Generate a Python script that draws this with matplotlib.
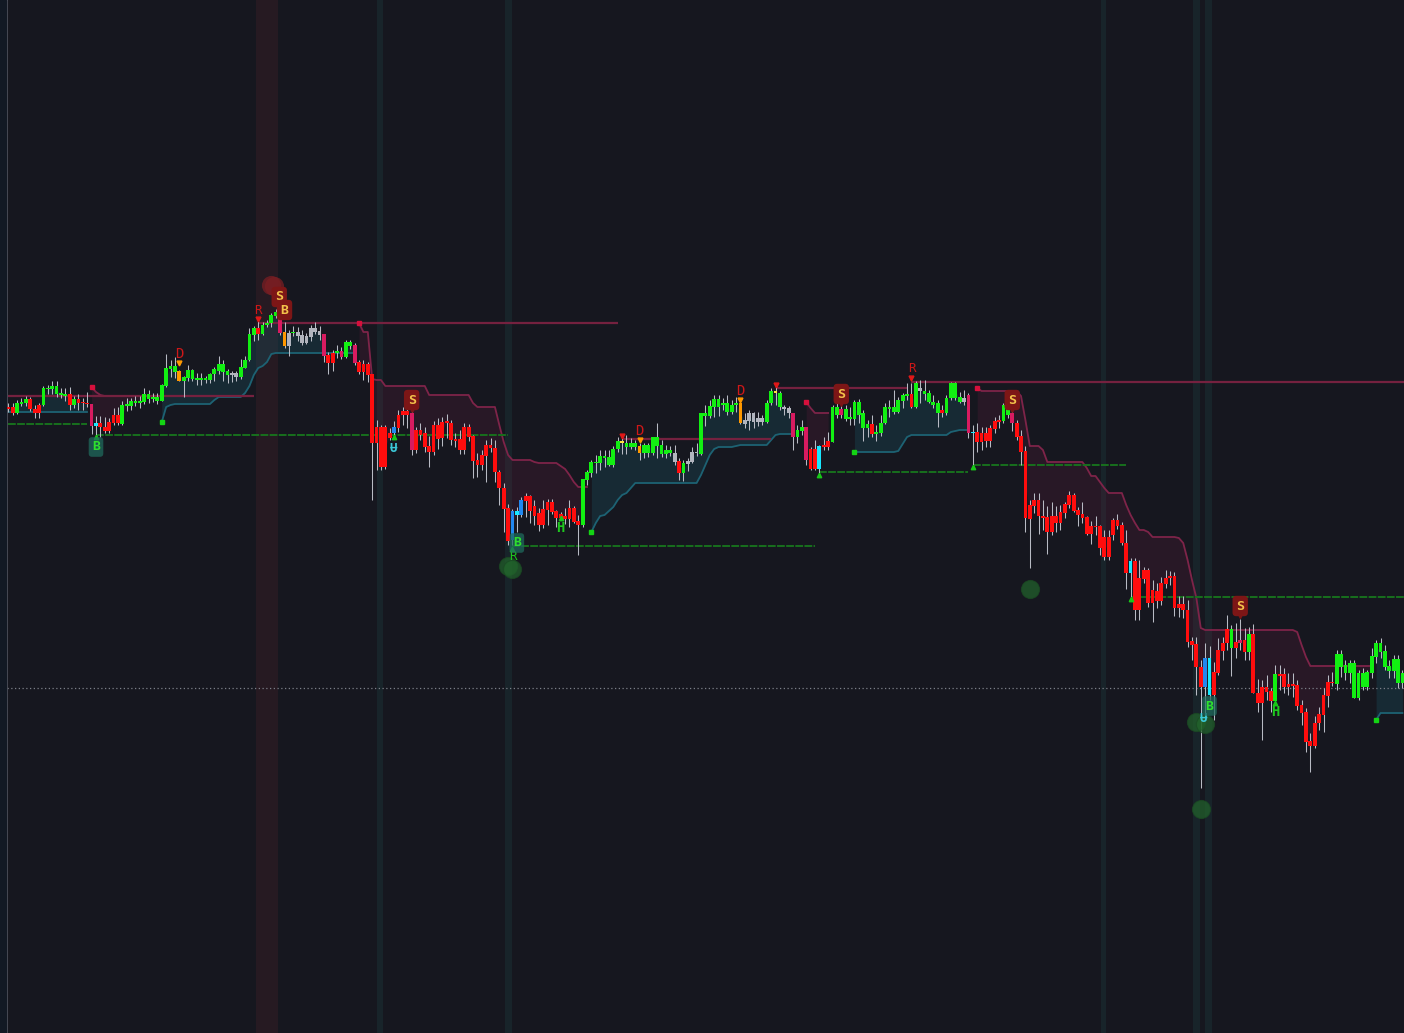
import matplotlib
# headless backend
matplotlib.use('Agg')
from matplotlib import pyplot as plt
import numpy as np

BG = '#16171f'

# ---- candles, one entry per bar (price units) ----
opens = [
    693, 693, 687, 696, 697, 701, 691, 695, 695, 711,
    711, 706, 705, 704, 706, 695, 701, 698, 697, 696,
    674, 677, 673, 678, 685, 685, 676, 694, 694, 697,
    697, 698, 701, 701, 699, 699, 714, 731, 728, 729,
    719, 722, 721, 720, 720, 720, 720, 726, 729, 728,
    725, 727, 723, 723, 732, 740, 765, 772, 766, 775,
    777, 784, 788, 768, 754, 767, 768, 765, 757, 763,
    772, 769, 766, 745, 747, 747, 749, 743, 754, 755,
    738, 736, 736, 726, 673, 673, 673, 667, 667, 685,
    689, 689, 687, 670, 670, 667, 654, 675, 675, 678,
    679, 677, 661, 661, 673, 673, 664, 640, 645, 655,
    655, 652, 628, 612, 592, 560, 585, 585, 604, 604,
    594, 587, 591, 598, 598, 589, 586, 584, 592, 592,
    579, 575, 620, 627, 637, 637, 642, 635, 635, 651,
    657, 653, 653, 653, 654, 647, 647, 647, 654, 646,
    646, 647, 647, 639, 627, 636, 638, 647, 646, 684,
    684, 693, 693, 695, 688, 688, 695, 697, 680, 679,
    678, 682, 678, 678, 697, 707, 693, 693, 692, 687,
    663, 669, 673, 651, 651, 631, 655, 659, 658, 685,
    691, 681, 681, 681, 685, 672, 672, 676, 666, 667,
    677, 691, 688, 688, 699, 704, 706, 693, 709, 706,
    698, 695, 687, 690, 687, 702, 702, 698, 702, 705,
    667, 668, 667, 667, 672, 679, 680, 679, 685, 687,
    677, 664, 649, 595, 600, 600, 584, 583, 584, 584,
    588, 596, 605, 605, 590, 586, 583, 574, 574, 574,
    563, 563, 580, 580, 575, 557, 527, 539, 522, 530,
    530, 510, 509, 517, 522, 524, 524, 496, 496, 490,
    459, 456, 433, 413, 405, 428, 450, 457, 471, 452,
    458, 460, 460, 448, 466, 407, 413, 413, 409, 399,
    426, 426, 416, 416, 415, 395, 388, 359, 377, 386,
    405, 418, 418, 416, 433, 427, 427, 402, 402, 413,
    413, 427, 443, 448, 433, 429, 429, 417, 417,
]
highs = [
    697, 697, 700, 702, 704, 703, 695, 697, 714, 715,
    719, 719, 712, 712, 713, 704, 706, 702, 708, 696,
    684, 684, 683, 682, 692, 693, 699, 702, 702, 704,
    704, 712, 710, 707, 707, 716, 746, 740, 743, 730,
    724, 735, 731, 727, 727, 724, 727, 733, 744, 740,
    731, 729, 729, 741, 744, 772, 774, 780, 778, 780,
    787, 791, 791, 778, 770, 774, 773, 770, 767, 775,
    778, 774, 766, 748, 750, 755, 753, 760, 760, 757,
    740, 740, 738, 726, 680, 675, 675, 672, 679, 690,
    693, 695, 690, 673, 677, 673, 664, 679, 682, 683,
    686, 680, 667, 670, 677, 676, 665, 647, 650, 660,
    662, 660, 630, 617, 596, 591, 593, 603, 607, 605,
    600, 592, 600, 601, 601, 590, 588, 592, 600, 594,
    585, 621, 630, 640, 645, 650, 650, 650, 654, 663,
    663, 665, 662, 660, 657, 657, 657, 663, 677, 660,
    655, 654, 655, 642, 640, 642, 653, 657, 687, 695,
    700, 705, 705, 702, 705, 700, 703, 699, 687, 690,
    688, 688, 685, 700, 712, 713, 709, 695, 694, 687,
    675, 680, 673, 653, 660, 655, 663, 668, 695, 697,
    695, 695, 693, 700, 701, 690, 680, 685, 675, 685,
    697, 700, 710, 703, 707, 717, 717, 719, 720, 720,
    710, 705, 700, 695, 705, 718, 718, 708, 710, 707,
    675, 677, 673, 673, 675, 683, 685, 697, 702, 690,
    680, 670, 654, 600, 607, 607, 600, 594, 598, 594,
    595, 598, 609, 607, 593, 598, 584, 579, 584, 575,
    570, 570, 582, 586, 578, 570, 542, 542, 540, 533,
    532, 520, 517, 523, 530, 529, 528, 504, 504, 500,
    463, 463, 440, 457, 454, 438, 462, 463, 485, 475,
    477, 481, 472, 473, 476, 421, 420, 425, 412, 435,
    435, 432, 427, 427, 420, 400, 392, 367, 384, 393,
    412, 425, 428, 450, 450, 440, 440, 440, 430, 432,
    430, 452, 460, 462, 455, 440, 445, 445, 430,
]
lows = [
    688, 685, 686, 694, 694, 689, 682, 682, 694, 706,
    706, 703, 702, 699, 690, 692, 690, 690, 693, 666,
    665, 663, 667, 667, 675, 675, 675, 689, 690, 694,
    692, 696, 697, 698, 696, 699, 713, 723, 722, 719,
    703, 719, 719, 715, 715, 717, 717, 719, 726, 719,
    717, 718, 719, 721, 732, 739, 759, 760, 765, 773,
    773, 782, 765, 752, 744, 764, 759, 755, 756, 759,
    766, 760, 738, 726, 729, 742, 741, 742, 751, 735,
    726, 720, 718, 600, 630, 630, 631, 660, 664, 668,
    675, 672, 645, 647, 660, 648, 633, 645, 651, 654,
    662, 655, 653, 646, 646, 659, 622, 623, 630, 618,
    648, 618, 595, 568, 555, 555, 568, 583, 583, 577,
    575, 569, 572, 575, 586, 573, 580, 576, 573, 577,
    545, 573, 615, 623, 627, 630, 633, 634, 633, 648,
    646, 646, 651, 650, 640, 642, 643, 645, 642, 643,
    642, 644, 635, 620, 619, 629, 637, 644, 645, 674,
    682, 683, 684, 690, 685, 686, 688, 676, 672, 670,
    672, 674, 675, 677, 695, 695, 690, 685, 682, 650,
    657, 665, 635, 630, 630, 625, 650, 650, 658, 682,
    682, 679, 675, 675, 677, 659, 663, 663, 659, 664,
    676, 683, 686, 687, 692, 700, 692, 692, 697, 700,
    697, 692, 673, 683, 685, 700, 700, 697, 695, 662,
    632, 648, 650, 653, 653, 667, 672, 677, 682, 669,
    660, 635, 568, 532, 587, 566, 570, 546, 565, 568,
    570, 582, 592, 588, 574, 577, 565, 556, 565, 545,
    540, 540, 560, 571, 555, 511, 500, 480, 480, 517,
    493, 478, 492, 495, 512, 515, 484, 483, 482, 453,
    440, 405, 312, 380, 400, 380, 425, 440, 450, 424,
    442, 450, 440, 440, 407, 388, 360, 400, 388, 397,
    410, 407, 405, 403, 390, 375, 348, 328, 352, 370,
    368, 393, 414, 410, 423, 420, 417, 402, 400, 410,
    410, 422, 437, 442, 430, 422, 422, 412, 412,
]
closes = [
    691, 687, 697, 698, 701, 691, 687, 687, 712, 712,
    714, 714, 707, 706, 695, 701, 697, 697, 696, 674,
    677, 673, 669, 669, 677, 677, 695, 696, 699, 699,
    699, 706, 706, 703, 703, 715, 732, 734, 734, 719,
    723, 730, 730, 722, 722, 722, 726, 731, 736, 736,
    729, 725, 727, 733, 740, 766, 772, 766, 775, 777,
    785, 788, 767, 754, 767, 768, 764, 757, 764, 772,
    768, 765, 744, 737, 737, 749, 743, 758, 758, 737,
    728, 728, 725, 657, 657, 633, 633, 662, 673, 672,
    685, 685, 650, 650, 665, 653, 648, 648, 661, 662,
    677, 660, 659, 650, 650, 663, 639, 635, 635, 644,
    652, 628, 612, 591, 559, 589, 589, 600, 599, 589,
    584, 575, 575, 590, 588, 582, 582, 581, 581, 578,
    575, 621, 628, 638, 638, 644, 644, 643, 651, 659,
    659, 657, 657, 657, 647, 655, 655, 663, 663, 655,
    650, 650, 638, 627, 637, 639, 648, 648, 687, 687,
    694, 701, 701, 697, 697, 695, 697, 677, 676, 687,
    687, 678, 682, 697, 709, 709, 707, 691, 687, 663,
    670, 673, 640, 631, 631, 654, 653, 653, 693, 693,
    685, 691, 683, 698, 698, 687, 676, 666, 668, 677,
    693, 693, 693, 700, 705, 706, 693, 717, 712, 709,
    707, 698, 697, 687, 702, 717, 717, 703, 698, 667,
    668, 658, 658, 659, 659, 671, 678, 695, 695, 677,
    663, 648, 582, 581, 594, 584, 582, 568, 568, 577,
    577, 587, 595, 589, 585, 582, 566, 566, 573, 552,
    543, 543, 565, 574, 557, 527, 539, 490, 490, 521,
    497, 497, 499, 499, 516, 522, 492, 492, 490, 458,
    455, 433, 413, 442, 442, 405, 427, 449, 457, 471,
    452, 457, 448, 466, 407, 397, 397, 408, 399, 426,
    424, 413, 413, 414, 394, 387, 358, 354, 354, 377,
    385, 404, 417, 446, 446, 435, 437, 437, 427, 427,
    428, 444, 457, 457, 449, 434, 441, 441, 427,
]
# bar colour codes: g up, r down, m/o/w/c/b/y = signal bars
bar_codes = (
    "rrgggrrrgg" "ggggrgrrrm" "crrrrrgggg" "gggggggggo" "gggggggggg"
    "gwwggggrgg" "ggmowgwwww" "wwmrrgmggm" "rrrrrrrrbr" "rrmrrrrrrr"
    "rrrrrrrrrr" "rrrrrbcbrr" "rrrrrrrrrr" "rggggggggg" "ygggoggggg"
    "ggwrgwwwgg" "gggggggoww" "wwwggygwwm" "ggmrrcrrgg" "mggggggrgg"
    "ggggggrgwg" "gggrggggwm" "crrrrrrggm" "rrrrrrrrrr" "rrrrrrrrrr"
    "rrrrrrcrrr" "rrrrrrrrrr" "rrrbcrrrrg" "rmrgrrrrrg" "rrrrrrrrrr"
    "rrrggggggg" "ggggggggg"
)

# ---- trailing stop bands (first bar, values per bar) ----
up_starts = [0, 35, 133, 193, 312]
up_values = [
    [688, 688, 688, 688, 688, 688, 688, 688, 688, 688,
     688, 688, 688, 688, 688, 688, 688, 688, 688],
    [678, 693, 695, 696, 696, 696, 696, 696, 696, 696, 696, 696, 700,
     703, 703, 703, 703, 703, 703, 707, 714, 725, 732, 734, 738, 746,
     747, 747, 747, 747, 747, 747, 747, 747, 747, 747, 747, 747, 747,
     747, 747, 747, 747, 747, 747],
    [568, 577, 584, 585, 589, 593, 600, 605, 607, 612, 617, 617, 617,
     617, 617, 617, 617, 617, 617, 617, 617, 617, 617, 617, 617, 625,
     635, 645, 651, 653, 653, 653, 653, 654, 655, 655, 655, 655, 655,
     655, 655, 660, 665, 666, 666, 666, 666],
    [648, 648, 648, 648, 648, 648, 648, 648, 648, 648, 649, 656, 663,
     665, 665, 665, 665, 665, 665, 665, 665, 665, 668, 669, 670, 670, 670],
    [380, 387, 387, 387, 387, 387, 387],
]
dn_starts = [19, 80, 182, 221]
dn_values = [
    [713, 708, 705, 704, 704, 704, 704, 704, 704, 704, 704, 704, 704,
     704, 704, 704],
    [777, 768, 768, 721, 720, 720, 714, 714, 714, 714, 714, 714, 714,
     714, 714, 714, 705, 705, 705, 705, 705, 705, 705, 705, 705, 705,
     697, 693, 693, 693, 693, 693, 675, 658, 645, 640, 640, 640, 640,
     640, 638, 637, 637, 637, 637, 637, 634, 631, 625, 618, 613, 613, 613],
    [698, 692, 687, 687, 687, 687],
    [712, 709, 709, 709, 709, 709, 709, 709, 709, 709, 704, 680, 654,
     654, 654, 650, 638, 638, 638, 638, 638, 638, 638, 638, 638, 632,
     624, 624, 618, 612, 607, 607, 607, 607, 595, 585, 577, 570, 570,
     568, 563, 563, 563, 563, 563, 563, 562, 557, 540, 520, 502, 472,
     470, 470, 470, 470, 470, 470, 470, 470, 470, 470, 470, 470, 470,
     470, 470, 470, 470, 470, 470, 470, 470, 468, 455, 443, 434, 434,
     434, 434, 434, 434, 434, 434, 434, 434, 434, 434, 434, 434, 434],
]

# ---- horizontal levels ----
res_levels = [704, 777, 661, 712, 718]
res_from = [0, 57, 140, 175, 206]
res_to = [56, 139, 174, 205, 318.4]
sup_levels = [676, 665, 554, 628, 635, 503]
sup_from = [0, 20, 115, 185, 220, 256]
sup_to = [18, 114, 184, 219, 255, 318.4]
last_price = 412

# ---- signal markers ----
pivot_hi_bars = [57, 140, 175, 206]
pivot_hi_prices = [781, 664, 715, 722]
r_bars = [57, 206]
r_prices = [790, 731]
d_bars = [39, 144, 167]
d_tri_prices = [737, 660, 700]
d_prices = [746, 669, 709]
up_tri_bars = [20, 115, 185, 220, 256, 88, 126, 289]
up_tri_prices = [663, 551, 625, 633, 501, 663, 582, 397]
u_bars = [88, 272.6]
u_prices = [651, 382]
h_bars = [126, 289]
h_prices = [572, 388]
rg_bars = [115]
rg_prices = [543]
sell_bars = [61.8, 92, 190, 229, 281]
sell_prices = [803, 700, 706, 700, 494]
buy_red_bars = [63]
buy_red_prices = [790]
buy_bars = [20, 116, 274]
buy_prices = [653, 557, 394]
red_blob_bars = [60, 60.6]
red_blob_prices = [815, 814]
green_blob_bars = [114, 115, 233, 271, 273, 272]
green_blob_prices = [534, 531, 511, 378, 376, 291]

# ---- background session bands ----
red_band = (56.5, 61.5)
teal_bands = [(84.2, 85.4), (113.4, 114.8), (249.2, 250.4), (270.2, 271.8), (273.0, 274.6)]

COLORS = {'g': '#12ef12', 'r': '#ff0d0d', 'm': '#d81b60', 'o': '#ff9800',
          'w': '#b2b5be', 'c': '#18e8ff', 'b': '#2188f0', 'y': '#ffe23b'}

fig = plt.figure(figsize=(14.04, 10.33), dpi=100)
fig.patch.set_facecolor(BG)
fig.patches.append(plt.Rectangle((0, 0), 6 / 1404, 1, transform=fig.transFigure,
                                 color='#121924', zorder=0))
ax = fig.add_axes([7 / 1404, 0, 1397 / 1404, 1])
ax.set_facecolor(BG)
ax.set_xlim(-0.3, 318.36)
ax.set_ylim(67, 1100)
for side in ['top', 'right', 'bottom']:
    ax.spines[side].set_visible(False)
ax.spines['left'].set_color('#5d606b')
ax.spines['left'].set_linewidth(1.2)
ax.set_xticks([])
ax.set_yticks([])

o = np.array(opens, dtype=float)
c = np.array(closes, dtype=float)
h = np.array(highs, dtype=float)
l = np.array(lows, dtype=float)
x = np.arange(len(o))
mid = (o + c) / 2

# session bands
ax.axvspan(*red_band, color='#261a22', lw=0, zorder=0)
for a, b in teal_bands:
    ax.axvspan(a, b, color='#18242a', lw=0, zorder=0)

# trailing bands with cloud fill to body middle
for s, vals in zip(up_starts, up_values):
    xs = np.arange(s, s + len(vals))
    ax.fill_between(xs, vals, mid[xs], color='#1c5866', alpha=0.3, lw=0, zorder=1)
    ax.plot(xs, vals, color='#1d6273', lw=1.3, zorder=2)
    if s > 0:
        ax.plot(s, vals[0], 's', color='#14d414', ms=3.0, zorder=4)
for s, vals in zip(dn_starts, dn_values):
    xs = np.arange(s, s + len(vals))
    ax.fill_between(xs, vals, mid[xs], color='#6a2040', alpha=0.22, lw=0, zorder=1)
    ax.plot(xs, vals, color='#7e2449', lw=1.3, zorder=2)
    ax.plot(s, vals[0], 's', color='#d6103c', ms=3.0, zorder=4)

# support / resistance levels
ax.hlines(res_levels, res_from, res_to, color='#75213f', lw=1.6, zorder=2)
ax.hlines(sup_levels, sup_from, sup_to, color='#18701d', lw=1.4,
          linestyles=(0, (4, 0.7)), zorder=2)
ax.axhline(last_price, color='#7c7f88', lw=0.9, ls=(0, (1, 2)), zorder=2)

# candles
cols = [COLORS[k] for k in bar_codes]
ax.vlines(x, l, h, color='#b8bbc4', lw=0.75, zorder=3)
body_lo = np.minimum(o, c)
body_h = np.maximum(np.abs(c - o), 1.5)
ax.bar(x, body_h, bottom=body_lo, width=0.86, color=cols, lw=0, zorder=3)

# translucent blobs
ax.scatter(red_blob_bars, red_blob_prices, s=190, color='#7a1e22', alpha=0.75, lw=0, zorder=4)
ax.scatter(green_blob_bars, green_blob_prices, s=170, color='#22652c', alpha=0.7,
           edgecolors='#1a4a22', lw=0.8, zorder=4)

# pivot markers
ax.plot(pivot_hi_bars, pivot_hi_prices, 'v', color='#e01818', ms=3.5, zorder=5)
ax.plot(d_bars, d_tri_prices, 'v', color='#ff9800', ms=3.5, zorder=5)
ax.plot(up_tri_bars, up_tri_prices, '^', color='#18c818', ms=3.2, zorder=5)

mono = 'DejaVu Sans Mono'
for bx, py in zip(r_bars, r_prices):
    ax.text(bx, py, 'R', color='#d01818', fontsize=9, family=mono, ha='center', va='center', zorder=6)
for bx, py in zip(d_bars, d_prices):
    ax.text(bx, py, 'D', color='#d01818', fontsize=10, family=mono, ha='center', va='center', zorder=6)
for bx, py in zip(u_bars, u_prices):
    ax.text(bx, py, 'Ʉ', color='#3cc8d8', fontsize=9, family=mono, weight='bold',
            ha='center', va='center', zorder=6)
for bx, py in zip(h_bars, h_prices):
    ax.text(bx, py, 'H', color='#1ec81e', fontsize=10, family=mono, weight='bold',
            ha='center', va='center', zorder=6)
for bx, py in zip(rg_bars, rg_prices):
    ax.text(bx, py, 'R', color='#1ec81e', fontsize=9, family=mono, ha='center', va='center', zorder=6)

# sell / buy labels
for bx, py in zip(sell_bars, sell_prices):
    ax.plot(bx, py - 9, 'v', color='#7d1616', ms=5, zorder=6)
    ax.text(bx, py, 'S', color='#f3c24a', fontsize=9.5, family=mono, weight='bold',
            ha='center', va='center', zorder=7,
            bbox=dict(boxstyle='round,pad=0.28', fc='#7d1616', ec='none'))
for bx, py in zip(buy_red_bars, buy_red_prices):
    ax.text(bx, py, 'B', color='#f3c24a', fontsize=9.5, family=mono, weight='bold',
            ha='center', va='center', zorder=7,
            bbox=dict(boxstyle='round,pad=0.28', fc='#7d1616', ec='none'))
for bx, py in zip(buy_bars, buy_prices):
    ax.text(bx, py, 'B', color='#2ee02e', fontsize=9.5, family=mono, weight='bold',
            ha='center', va='center', zorder=7,
            bbox=dict(boxstyle='round,pad=0.25', fc='#1f6a5c', ec='none', alpha=0.75))

fig.savefig('out.png', dpi=100, facecolor=BG)
